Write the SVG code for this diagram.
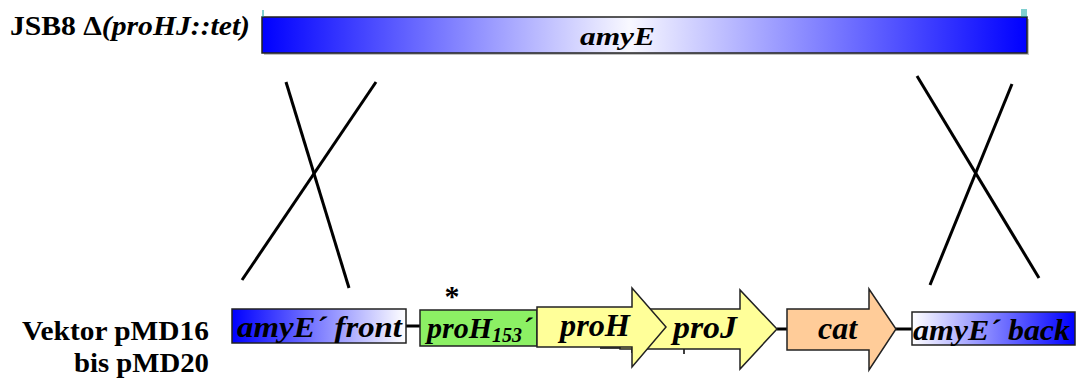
<svg xmlns="http://www.w3.org/2000/svg" width="1076" height="383" viewBox="0 0 1076 383">
<defs>
<linearGradient id="gTop" x1="0" y1="0" x2="1" y2="0">
<stop offset="0" stop-color="#0000ff"/>
<stop offset="0.48" stop-color="#f8f8ff"/>
<stop offset="1" stop-color="#0000ff"/>
</linearGradient>
<linearGradient id="gFront" x1="0" y1="0" x2="1" y2="0">
<stop offset="0" stop-color="#0000ff"/>
<stop offset="1" stop-color="#ffffff"/>
</linearGradient>
<linearGradient id="gBack" x1="0" y1="0" x2="1" y2="0">
<stop offset="0" stop-color="#ffffff"/>
<stop offset="1" stop-color="#0000ff"/>
</linearGradient>
<style>
.lbl{font-family:"Liberation Serif","Times New Roman",serif;font-weight:bold;fill:#000}
.it{font-style:italic}
.box{stroke:#222;stroke-width:1.5}
.ln{stroke:#000;stroke-width:3;fill:none}
.tick{stroke:#00a0a0;stroke-width:1}
</style>
</defs>

<g id="genome">
<rect x="264" y="19" width="765" height="36" fill="#c0c0c0"/>
<rect x="262" y="17" width="765" height="36" fill="url(#gTop)" class="box"/>
<line class="tick" x1="263" y1="10" x2="263" y2="17" stroke-width="2"/>
<line class="tick" x1="1022" y1="9" x2="1022" y2="17"/>
<line class="tick" x1="1024" y1="9" x2="1024" y2="17"/>
<line class="tick" x1="1026" y1="9" x2="1026" y2="17"/>
<text class="lbl it" x="580" y="45" font-size="26" textLength="75" lengthAdjust="spacingAndGlyphs">amyE</text>
<text class="lbl" x="10" y="35" font-size="27" textLength="240" lengthAdjust="spacingAndGlyphs">JSB8 Δ<tspan class="it">(proHJ::tet)</tspan></text>
</g>

<g id="vector-label">
<text class="lbl" x="22" y="340" font-size="28" textLength="187" lengthAdjust="spacingAndGlyphs">Vektor pMD16</text>
<text class="lbl" x="74" y="372" font-size="28" textLength="135" lengthAdjust="spacingAndGlyphs">bis pMD20</text>
</g>

<g id="connectors">
<line class="ln" x1="286" y1="82" x2="349" y2="288"/>
<line class="ln" x1="376" y1="82" x2="242" y2="280"/>
<line class="ln" x1="917" y1="76" x2="1039" y2="278"/>
<line class="ln" x1="1012" y1="84" x2="930" y2="285"/>
<line class="ln" x1="406" y1="326" x2="420" y2="326"/>
<line class="ln" x1="777" y1="329" x2="787" y2="329"/>
<line class="ln" x1="896" y1="329" x2="912" y2="329"/>
</g>

<g id="amyE-front">
<rect x="232" y="309" width="174" height="34" fill="url(#gFront)" class="box"/>
<text class="lbl it" x="237" y="337" font-size="30" textLength="165" lengthAdjust="spacingAndGlyphs">amyE´ front</text>
</g>

<g id="proH153">
<rect x="420" y="310" width="117" height="36" fill="#8cf064" class="box"/>
<path d="M600,348 H632 V353 M684,347 V354 M680,347 H688" stroke="#000" stroke-width="1.5" fill="none"/>
<text class="lbl it" x="427" y="338" font-size="30">proH<tspan font-size="20" dy="4">153</tspan><tspan dy="-4">´</tspan></text>
<text class="lbl" x="452" y="306" font-size="30" text-anchor="middle">*</text>
</g>

<g id="proJ">
<polygon points="620,309 740,309 740,290 777,329 740,369 740,349 620,349" fill="#ffff99" class="box"/>
<text class="lbl it" x="673" y="338" font-size="31" textLength="64" lengthAdjust="spacingAndGlyphs">proJ</text>
</g>

<g id="proH">
<polygon points="537,307 632,307 632,288 666,327 632,367 632,347 537,347" fill="#ffff99" class="box"/>
<text class="lbl it" x="560" y="336" font-size="31" textLength="70" lengthAdjust="spacingAndGlyphs">proH</text>
</g>

<g id="cat">
<polygon points="787,309 869,309 869,289 896,329 869,370 869,350 787,350" fill="#ffcc99" class="box"/>
<text class="lbl it" x="818" y="339" font-size="31" textLength="39" lengthAdjust="spacingAndGlyphs">cat</text>
</g>

<g id="amyE-back">
<rect x="912" y="312" width="163" height="33" fill="url(#gBack)" class="box"/>
<text class="lbl it" x="913" y="340" font-size="30" textLength="157" lengthAdjust="spacingAndGlyphs">amyE´ back</text>
</g>
</svg>
